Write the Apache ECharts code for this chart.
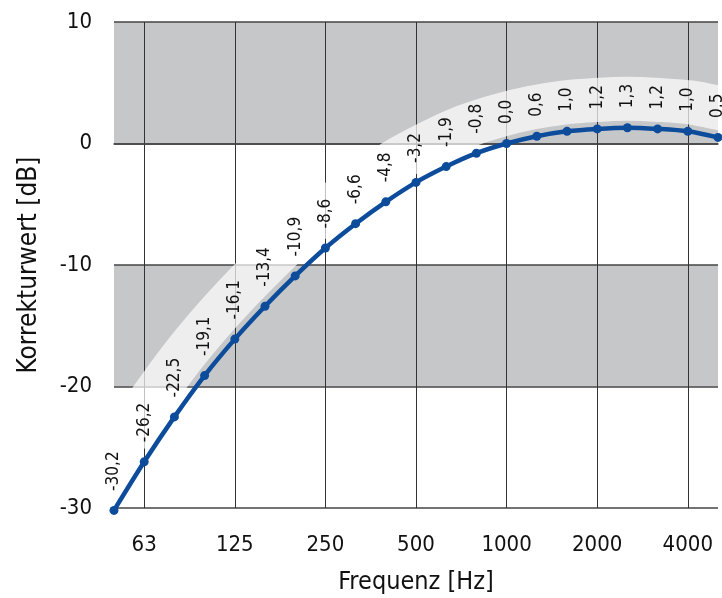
<!DOCTYPE html>
<html>
<head>
<meta charset="utf-8">
<script src="https://cdn.jsdelivr.net/npm/echarts@6/dist/echarts.min.js"></script>
<style>
  html, body { margin: 0; padding: 0; background: #fff; }
  #main { width: 722px; height: 598px; }
</style>
</head>
<body>
<div id="main"></div>
<script>
  // Terzband-Mittenfrequenzen und A-Bewertung
  var frequencies = ['50', '63', '80', '100', '125', '160', '200', '250', '315', '400', '500',
    '630', '800', '1000', '1250', '1600', '2000', '2500', '3150', '4000', '5000'];
  var correction = [-30.2, -26.2, -22.5, -19.1, -16.1, -13.4, -10.9, -8.6, -6.6, -4.8, -3.2,
    -1.9, -0.8, 0.0, 0.6, 1.0, 1.2, 1.3, 1.2, 1.0, 0.5];
  var tickLabels = ['63', '125', '250', '500', '1000', '2000', '4000'];

  var font = '"DejaVu Sans Condensed", "Liberation Sans Narrow", sans-serif';
  var myChart = echarts.init(document.getElementById('main'));

  function showTick(index, value) {
    return tickLabels.indexOf(frequencies[index]) >= 0;
  }

  // heller Streifen oberhalb der Kurve (Abstand senkrecht zur Kurve)
  function renderBand(params, api) {
    if (params.dataIndex !== 0) return;
    var pts = correction.map(function (v, i) { return api.coord([i, v]); });
    var n = pts.length, off = 29, out = [];
    var tans = pts.map(function (p, i) {
      var a = pts[Math.max(i - 1, 0)], b = pts[Math.min(i + 1, n - 1)];
      var tx = b[0] - a[0], ty = b[1] - a[1], l = Math.sqrt(tx * tx + ty * ty);
      return [tx / l, ty / l];
    });
    pts.forEach(function (p, i) {
      var t = tans[i];
      out.push([p[0] + t[1] * off, p[1] - t[0] * off]);
    });
    var t0 = tans[0], tn = tans[n - 1];
    out.unshift([out[0][0] - t0[0] * 80, out[0][1] - t0[1] * 80]);
    out.push([out[out.length - 1][0] + tn[0] * 80, out[out.length - 1][1] + tn[1] * 80]);
    var cs = params.coordSys;
    return {
      type: 'polyline',
      shape: { points: out, smooth: 0.3 },
      style: { stroke: 'rgba(255,255,255,0.7)', lineWidth: 44, fill: null },
      clipPath: { type: 'rect', shape: { x: cs.x, y: cs.y, width: cs.width, height: cs.height } }
    };
  }

  var option = {
    animation: false,
    grid: { left: 114, right: 4, top: 22, bottom: 90, outerBoundsMode: 'none', containLabel: false },
    xAxis: {
      type: 'category',
      data: frequencies,
      boundaryGap: false,
      name: 'Frequenz [Hz]',
      nameLocation: 'middle',
      nameGap: 62,
      nameTextStyle: { fontFamily: font, fontSize: 25, color: '#111' },
      axisLine: { lineStyle: { color: '#444', width: 1.5 } },
      axisTick: { show: false },
      axisLabel: { interval: showTick, margin: 26, fontFamily: font, fontSize: 22, color: '#111' },
      splitLine: { show: true, interval: showTick, lineStyle: { color: '#333', width: 1 } }
    },
    yAxis: {
      type: 'value',
      min: -30,
      max: 10,
      interval: 10,
      name: 'Korrekturwert [dB]',
      nameLocation: 'middle',
      nameGap: 72,
      nameTextStyle: { fontFamily: font, fontSize: 26, color: '#111' },
      axisLine: { show: false },
      axisTick: { show: false },
      axisLabel: { margin: 22, fontFamily: font, fontSize: 22, color: '#111' },
      splitLine: { lineStyle: { color: '#444', width: 1.5 } },
      splitArea: { show: true, areaStyle: { color: ['#ffffff', '#c6c7c9'] } }
    },
    series: [
      {
        type: 'custom',
        renderItem: renderBand,
        data: correction.map(function (v, i) { return [i, v]; }),
        encode: { x: 0, y: 1 },
        z: 1,
        silent: true
      },
      {
        type: 'line',
        data: correction,
        smooth: 0.3,
        clip: false,
        symbol: 'circle',
        symbolSize: 9,
        showAllSymbol: true,
        z: 3,
        itemStyle: { color: '#0c4c9b' },
        lineStyle: { color: '#0c4c9b', width: 4.5 },
        label: {
          show: true,
          position: 'top',
          distance: 15,
          rotate: 90,
          align: 'left',
          verticalAlign: 'middle',
          fontFamily: font,
          fontSize: 17,
          color: '#111',
          formatter: function (p) { return p.value.toFixed(1).replace('.', ','); }
        }
      }
    ]
  };
  myChart.setOption(option);
</script>
</body>
</html>
